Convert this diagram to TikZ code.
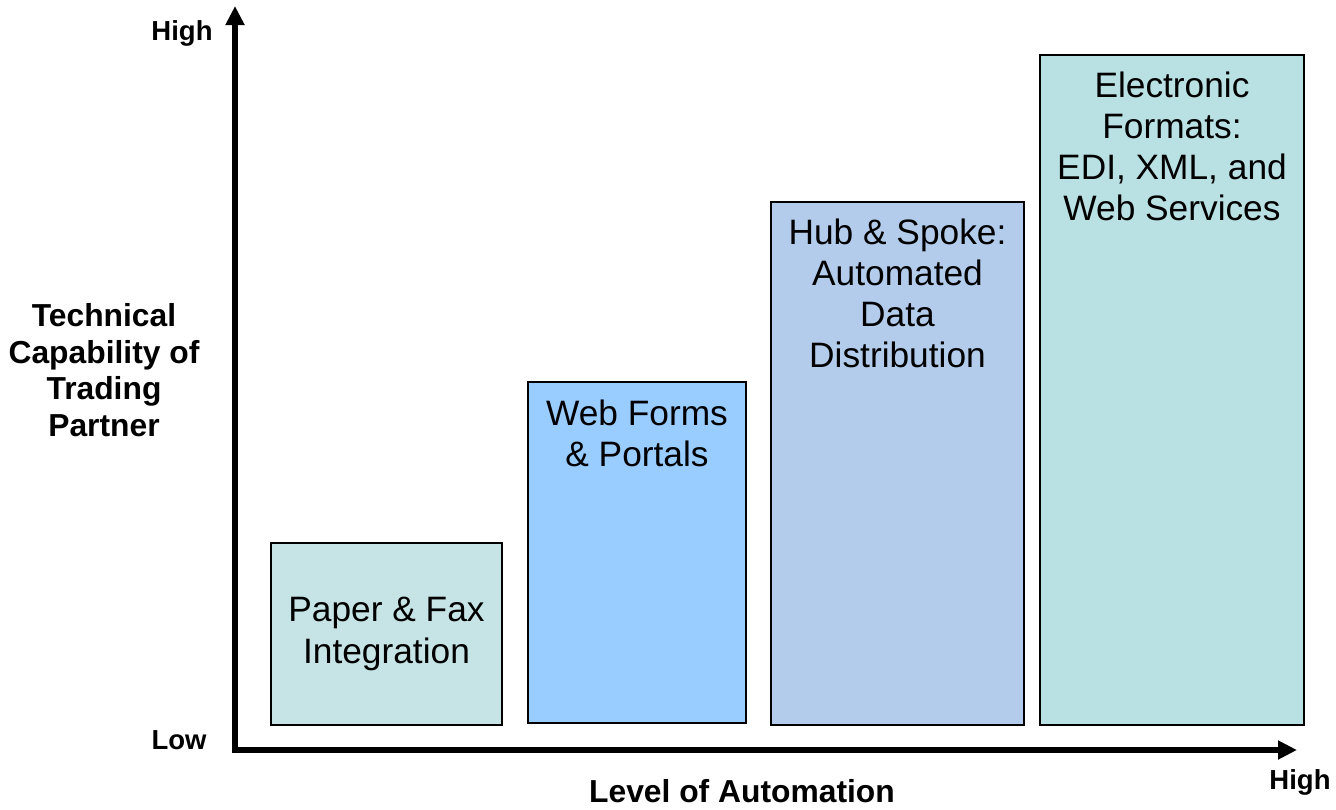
\documentclass[tikz,border=0pt]{standalone}
\usepackage{fontspec}
\setmainfont{Liberation Sans}
\usetikzlibrary{arrows.meta}
\definecolor{paperfill}{RGB}{198,228,230}
\definecolor{webfill}{RGB}{153,204,255}
\definecolor{hubfill}{RGB}{179,204,235}
\definecolor{edifill}{RGB}{185,224,227}
\tikzset{
  box/.style={draw=black, line width=1.4pt, rectangle, inner sep=0pt},
  boxtext/.style={align=center, inner sep=0pt, font=\fontsize{35.3}{41.3}\selectfont},
  axislabel/.style={inner sep=0pt, font=\bfseries\fontsize{27.5}{30}\selectfont},
  titlelabel/.style={inner sep=0pt, align=center, font=\bfseries\fontsize{31.8}{36.7}\selectfont},
  axis/.style={line width=5.5pt, -{Triangle[length=19pt,width=18pt]}}
}
\begin{document}
\begin{tikzpicture}[x=1pt,y=-1pt]
\useasboundingbox (0,0) rectangle (1336,809);

% axes
\coordinate (O) at (235,750);
\coordinate (Ybot) at (235,752.75);
\coordinate (Ytop) at (235,6);
\coordinate (Xleft) at (232.25,750);
\coordinate (Xright) at (1297,750);
\draw[axis] (Ybot) -- (Ytop);
\draw[axis] (Xleft) -- (Xright);

% axis end labels
\node[axislabel, anchor=base] (yhigh) at (182,40) {High};
\node[axislabel, anchor=base] (ylow) at (179,749) {Low};
\node[axislabel, anchor=base] (xhigh) at (1300,789) {High};
\node[titlelabel, anchor=base] (xtitle) at (742,802.5) {Level of Automation};
\node[titlelabel] (ytitle) at (104,370) {Technical\\Capability of\\Trading\\Partner};

% capability blocks
\node[box, fill=paperfill, minimum width=231, minimum height=182] (paper) at (386.5,634) {};
\node[box, fill=webfill, minimum width=218, minimum height=341] (web) at (637,552.5) {};
\node[box, fill=hubfill, minimum width=253, minimum height=523] (hub) at (897.5,463.5) {};
\node[box, fill=edifill, minimum width=264, minimum height=670] (edi) at (1172,390) {};

% block captions
\node[boxtext] (papertext) at (paper.center) {Paper \& Fax\\Integration};
\node[boxtext, anchor=north] (webtext) at ([yshift=-18pt]web.north) {Web Forms\\\& Portals};
\node[boxtext, anchor=north] (hubtext) at ([yshift=-17pt]hub.north) {Hub \& Spoke:\\Automated\\Data\\Distribution};
\node[boxtext, anchor=north] (editext) at ([yshift=-17pt]edi.north) {Electronic\\Formats:\\EDI, XML, and\\Web Services};
\end{tikzpicture}
\end{document}
